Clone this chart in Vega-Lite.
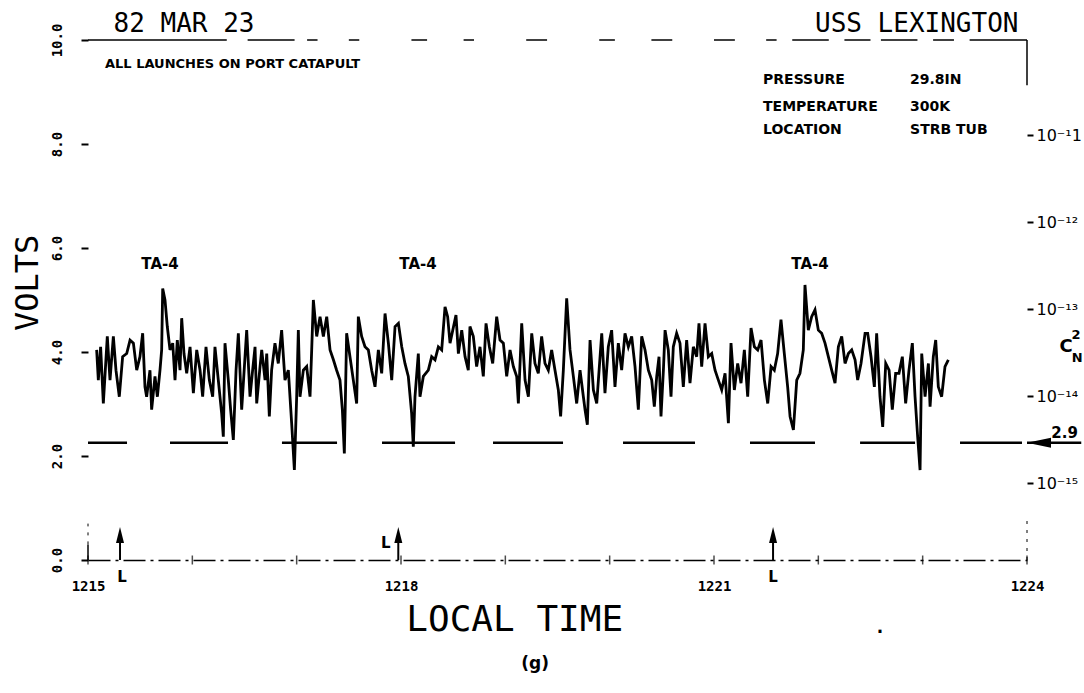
{
"$schema": "https://vega.github.io/schema/vega-lite/v6.json",
"width": 939, "height": 520,
"autosize": "none",
"padding": {"left": 88, "top": 40, "right": 57, "bottom": 133},
"background": "white",
"config": {"view": {"stroke": null}, "axis": {"grid": false}},
"datasets": {
"signal": [
{"t":1215.083,"v":4.04},{"t":1215.099,"v":3.46},{"t":1215.121,"v":4.10},{"t":1215.147,"v":3.01},{"t":1215.185,"v":4.30},{"t":1215.211,"v":3.46},{"t":1215.243,"v":4.30},{"t":1215.268,"v":3.65},{"t":1215.300,"v":3.14},{"t":1215.332,"v":3.91},{"t":1215.371,"v":3.97},{"t":1215.403,"v":4.23},{"t":1215.435,"v":4.17},{"t":1215.467,"v":3.65},{"t":1215.498,"v":3.91},{"t":1215.524,"v":4.36},{"t":1215.546,"v":3.33},{"t":1215.562,"v":3.14},{"t":1215.594,"v":3.65},{"t":1215.610,"v":2.89},{"t":1215.642,"v":3.53},{"t":1215.665,"v":3.14},{"t":1215.690,"v":3.65},{"t":1215.706,"v":4.04},{"t":1215.716,"v":5.22},{"t":1215.738,"v":5.00},{"t":1215.760,"v":4.49},{"t":1215.786,"v":4.04},{"t":1215.812,"v":4.17},{"t":1215.834,"v":3.46},{"t":1215.856,"v":4.23},{"t":1215.882,"v":3.65},{"t":1215.898,"v":4.65},{"t":1215.920,"v":3.97},{"t":1215.946,"v":3.59},{"t":1215.978,"v":4.10},{"t":1216.010,"v":3.21},{"t":1216.042,"v":4.04},{"t":1216.074,"v":3.65},{"t":1216.099,"v":3.14},{"t":1216.131,"v":4.10},{"t":1216.163,"v":3.46},{"t":1216.195,"v":3.14},{"t":1216.217,"v":4.10},{"t":1216.249,"v":3.46},{"t":1216.281,"v":2.82},{"t":1216.297,"v":2.37},{"t":1216.313,"v":4.17},{"t":1216.345,"v":3.46},{"t":1216.367,"v":2.89},{"t":1216.393,"v":2.31},{"t":1216.419,"v":3.65},{"t":1216.441,"v":4.36},{"t":1216.473,"v":2.89},{"t":1216.505,"v":3.91},{"t":1216.521,"v":4.42},{"t":1216.553,"v":3.14},{"t":1216.578,"v":3.65},{"t":1216.601,"v":4.10},{"t":1216.617,"v":3.01},{"t":1216.649,"v":3.72},{"t":1216.665,"v":4.04},{"t":1216.697,"v":3.46},{"t":1216.713,"v":3.97},{"t":1216.738,"v":2.76},
{"t":1216.760,"v":3.65},{"t":1216.792,"v":4.17},{"t":1216.824,"v":3.78},{"t":1216.856,"v":4.42},{"t":1216.888,"v":3.46},{"t":1216.920,"v":3.65},{"t":1216.952,"v":2.63},{"t":1216.978,"v":1.73},{"t":1217.000,"v":3.14},{"t":1217.016,"v":4.42},{"t":1217.032,"v":3.14},{"t":1217.064,"v":3.65},{"t":1217.096,"v":3.72},{"t":1217.128,"v":3.14},{"t":1217.144,"v":4.04},{"t":1217.160,"v":5.00},{"t":1217.192,"v":4.30},{"t":1217.224,"v":4.68},{"t":1217.256,"v":4.30},{"t":1217.288,"v":4.68},{"t":1217.320,"v":4.04},{"t":1217.352,"v":3.85},{"t":1217.383,"v":3.65},{"t":1217.415,"v":3.46},{"t":1217.438,"v":2.89},{"t":1217.457,"v":2.05},{"t":1217.479,"v":4.36},{"t":1217.511,"v":3.91},{"t":1217.543,"v":3.46},{"t":1217.575,"v":3.01},{"t":1217.591,"v":4.68},{"t":1217.623,"v":4.30},{"t":1217.655,"v":4.10},{"t":1217.687,"v":4.04},{"t":1217.719,"v":3.65},{"t":1217.751,"v":3.33},{"t":1217.783,"v":4.04},{"t":1217.815,"v":3.59},{"t":1217.847,"v":4.74},{"t":1217.879,"v":4.17},{"t":1217.911,"v":3.46},{"t":1217.943,"v":4.49},{"t":1217.975,"v":4.55},{"t":1218.007,"v":4.10},{"t":1218.038,"v":3.78},{"t":1218.070,"v":3.53},{"t":1218.102,"v":2.82},{"t":1218.118,"v":2.18},{"t":1218.134,"v":3.14},{"t":1218.166,"v":3.97},{"t":1218.182,"v":3.14},{"t":1218.214,"v":3.53},{"t":1218.262,"v":3.65},{"t":1218.294,"v":3.91},{"t":1218.326,"v":3.85},{"t":1218.358,"v":4.10},{"t":1218.390,"v":4.04},{"t":1218.422,"v":4.87},{"t":1218.447,"v":4.68},{"t":1218.470,"v":4.17},
{"t":1218.527,"v":4.71},{"t":1218.550,"v":3.97},{"t":1218.582,"v":4.42},{"t":1218.614,"v":3.91},{"t":1218.645,"v":3.65},{"t":1218.661,"v":4.49},{"t":1218.693,"v":4.30},{"t":1218.725,"v":3.72},{"t":1218.757,"v":4.10},{"t":1218.789,"v":3.53},{"t":1218.815,"v":4.55},{"t":1218.847,"v":4.10},{"t":1218.879,"v":3.78},{"t":1218.917,"v":4.68},{"t":1218.949,"v":4.23},{"t":1218.981,"v":4.17},{"t":1219.013,"v":3.53},{"t":1219.045,"v":4.04},{"t":1219.077,"v":3.72},{"t":1219.109,"v":3.53},{"t":1219.125,"v":3.01},{"t":1219.157,"v":4.55},{"t":1219.189,"v":3.46},{"t":1219.221,"v":3.14},{"t":1219.253,"v":4.36},{"t":1219.284,"v":3.78},{"t":1219.316,"v":3.59},{"t":1219.348,"v":4.30},{"t":1219.380,"v":3.78},{"t":1219.412,"v":3.65},{"t":1219.444,"v":4.04},{"t":1219.476,"v":3.65},{"t":1219.508,"v":3.27},{"t":1219.530,"v":2.76},{"t":1219.556,"v":3.65},{"t":1219.588,"v":5.03},{"t":1219.620,"v":4.04},{"t":1219.652,"v":3.53},{"t":1219.684,"v":3.01},{"t":1219.716,"v":3.65},{"t":1219.748,"v":3.14},{"t":1219.764,"v":2.89},{"t":1219.786,"v":2.60},{"t":1219.812,"v":4.23},{"t":1219.844,"v":3.27},{"t":1219.876,"v":3.01},{"t":1219.908,"v":3.91},{"t":1219.924,"v":4.36},{"t":1219.955,"v":3.21},{"t":1219.987,"v":4.10},{"t":1220.019,"v":4.42},{"t":1220.051,"v":3.33},{"t":1220.083,"v":4.17},{"t":1220.115,"v":3.65},{"t":1220.147,"v":4.36},{"t":1220.179,"v":4.10},{"t":1220.211,"v":4.30},{"t":1220.243,"v":3.72},{"t":1220.275,"v":2.89},
{"t":1220.307,"v":4.30},{"t":1220.339,"v":4.04},{"t":1220.371,"v":3.65},{"t":1220.403,"v":3.46},{"t":1220.428,"v":2.95},{"t":1220.451,"v":3.53},{"t":1220.473,"v":3.91},{"t":1220.492,"v":2.76},{"t":1220.515,"v":3.65},{"t":1220.531,"v":4.42},{"t":1220.562,"v":4.04},{"t":1220.588,"v":3.14},{"t":1220.610,"v":4.10},{"t":1220.642,"v":4.36},{"t":1220.674,"v":4.17},{"t":1220.706,"v":3.33},{"t":1220.738,"v":4.23},{"t":1220.770,"v":3.40},{"t":1220.802,"v":4.10},{"t":1220.834,"v":3.91},{"t":1220.856,"v":4.55},{"t":1220.882,"v":3.72},{"t":1220.914,"v":4.55},{"t":1220.946,"v":3.91},{"t":1220.978,"v":3.97},{"t":1221.010,"v":3.65},{"t":1221.042,"v":3.46},{"t":1221.074,"v":3.27},{"t":1221.106,"v":3.59},{"t":1221.138,"v":2.63},{"t":1221.163,"v":4.17},{"t":1221.195,"v":3.27},{"t":1221.227,"v":3.78},{"t":1221.259,"v":3.40},{"t":1221.291,"v":4.04},{"t":1221.323,"v":3.14},{"t":1221.355,"v":4.46},{"t":1221.387,"v":4.10},{"t":1221.419,"v":4.04},{"t":1221.451,"v":4.23},{"t":1221.483,"v":3.46},{"t":1221.515,"v":3.01},{"t":1221.547,"v":3.72},{"t":1221.578,"v":3.65},{"t":1221.610,"v":3.97},{"t":1221.642,"v":4.62},{"t":1221.674,"v":3.97},{"t":1221.706,"v":3.33},{"t":1221.729,"v":2.76},{"t":1221.761,"v":2.50},{"t":1221.793,"v":3.46},{"t":1221.824,"v":3.59},{"t":1221.856,"v":4.04},{"t":1221.872,"v":5.29},{"t":1221.904,"v":4.42},{"t":1221.936,"v":4.68},{"t":1221.968,"v":4.81},{"t":1222.000,"v":4.42},{"t":1222.032,"v":4.36},
{"t":1222.064,"v":4.17},{"t":1222.096,"v":3.91},{"t":1222.128,"v":3.65},{"t":1222.160,"v":3.40},{"t":1222.192,"v":4.10},{"t":1222.224,"v":4.30},{"t":1222.256,"v":3.78},{"t":1222.288,"v":3.97},{"t":1222.320,"v":4.04},{"t":1222.352,"v":3.85},{"t":1222.377,"v":3.46},{"t":1222.409,"v":3.78},{"t":1222.448,"v":4.36},{"t":1222.473,"v":4.36},{"t":1222.505,"v":3.91},{"t":1222.537,"v":3.33},{"t":1222.559,"v":4.36},{"t":1222.591,"v":3.14},{"t":1222.617,"v":2.56},{"t":1222.646,"v":3.78},{"t":1222.678,"v":3.65},{"t":1222.709,"v":2.89},{"t":1222.741,"v":3.59},{"t":1222.773,"v":3.59},{"t":1222.805,"v":3.91},{"t":1222.837,"v":3.01},{"t":1222.869,"v":3.65},{"t":1222.901,"v":4.17},{"t":1222.927,"v":3.14},{"t":1222.952,"v":2.37},{"t":1222.975,"v":1.73},{"t":1222.991,"v":3.97},{"t":1223.023,"v":3.14},{"t":1223.055,"v":3.78},{"t":1223.071,"v":2.95},{"t":1223.102,"v":3.91},{"t":1223.125,"v":4.23},{"t":1223.150,"v":3.33},{"t":1223.182,"v":3.14},{"t":1223.214,"v":3.72},{"t":1223.246,"v":3.85}
],
"refsegs": [
{"t":1215.0,"t2":1215.374,"c":2.9e-15},{"t":1215.786,"t2":1216.342,"c":2.9e-15},{"t":1216.859,"t2":1217.387,"c":2.9e-15},{"t":1217.818,"t2":1218.518,"c":2.9e-15},{"t":1218.882,"t2":1219.553,"c":2.9e-15},{"t":1220.128,"t2":1220.818,"c":2.9e-15},{"t":1221.345,"t2":1221.968,"c":2.9e-15},{"t":1222.400,"t2":1222.927,"c":2.9e-15},{"t":1223.358,"t2":1223.952,"c":2.9e-15},{"t":1224.0,"t2":1224.52,"c":2.9e-15}
],
"topframe": [
{"t":1215.0,"t2":1216.33,"v":10},{"t":1216.53,"t2":1216.98,"v":10},{"t":1217.1,"t2":1217.2,"v":10},{"t":1217.5,"t2":1217.6,"v":10},{"t":1218.1,"t2":1218.25,"v":10},{"t":1218.6,"t2":1218.7,"v":10},{"t":1219.2,"t2":1219.4,"v":10},{"t":1219.9,"t2":1220.05,"v":10},{"t":1220.4,"t2":1220.6,"v":10},{"t":1221.0,"t2":1221.2,"v":10},{"t":1221.5,"t2":1221.6,"v":10},{"t":1221.75,"t2":1222.1,"v":10},{"t":1222.25,"t2":1222.5,"v":10},{"t":1222.6,"t2":1222.95,"v":10},{"t":1223.1,"t2":1223.3,"v":10},{"t":1223.45,"t2":1224.0,"v":10}
],
"launches": [{"t":1215.307},{"t":1217.974},{"t":1221.566}],
"minutes": [{"t":1215},{"t":1216},{"t":1217},{"t":1218},{"t":1219},{"t":1220},{"t":1221},{"t":1222},{"t":1223},{"t":1224}]
},
"layer": [
{
"layer": [
{
"data": {"name": "signal"},
"mark": {"type": "line", "color": "black", "strokeWidth": 2.8, "strokeJoin": "miter"},
"encoding": {
"x": {"field": "t", "type": "quantitative", "scale": {"domain": [1215, 1224], "nice": false, "zero": false},
"axis": {"title": null, "values": [1215, 1218, 1221, 1224], "format": "d", "tickSize": 0, "labelPadding": 19, "labelFlush": false,
"labelFont": "DejaVu Sans Mono", "labelFontWeight": "bold", "labelFontSize": 14, "labelColor": "black",
"domainColor": "black", "domainWidth": 1.5, "domainDash": [22, 5, 3, 5]}},
"y": {"field": "v", "type": "quantitative", "scale": {"domain": [0, 10], "nice": false, "zero": false},
"axis": {"title": null, "values": [0, 2, 4, 6, 8, 10], "format": ".1f", "domain": false, "tickSize": 7, "tickWidth": 2, "tickColor": "black",
"labelAngle": -90, "labelAlign": "center", "labelBaseline": "middle", "labelPadding": 24, "labelFlush": false,
"labelFont": "DejaVu Sans Mono", "labelFontWeight": "bold", "labelFontSize": 14, "labelColor": "black"}}
}
},
{
"data": {"name": "topframe"},
"mark": {"type": "rule", "color": "black", "strokeWidth": 1.5},
"encoding": {"x": {"field": "t", "type": "quantitative"}, "x2": {"field": "t2"}, "y": {"field": "v", "type": "quantitative"}}
},
{
"data": {"values": [{"t": 1224, "v": 10, "v2": 9.13}, {"t": 1215, "v": 0, "v2": 0.3}]},
"mark": {"type": "rule", "color": "black", "strokeWidth": 1.5},
"encoding": {"x": {"field": "t", "type": "quantitative"}, "y": {"field": "v", "type": "quantitative"}, "y2": {"field": "v2"}}
},
{
"data": {"values": [{"t": 1224, "v": 0, "v2": 0.85}, {"t": 1215, "v": 0.3, "v2": 0.7}]},
"mark": {"type": "rule", "color": "black", "strokeWidth": 1, "strokeDash": [3, 6]},
"encoding": {"x": {"field": "t", "type": "quantitative"}, "y": {"field": "v", "type": "quantitative"}, "y2": {"field": "v2"}}
},
{
"data": {"name": "minutes"},
"transform": [{"calculate": "0", "as": "v"}],
"mark": {"type": "tick", "orient": "vertical", "color": "black", "thickness": 1.5, "size": 9},
"encoding": {"x": {"field": "t", "type": "quantitative"}, "y": {"field": "v", "type": "quantitative"}}
},
{
"data": {"name": "launches"},
"transform": [{"calculate": "0", "as": "v"}, {"calculate": "0.4", "as": "v2"}],
"mark": {"type": "rule", "color": "black", "strokeWidth": 2},
"encoding": {"x": {"field": "t", "type": "quantitative"}, "y": {"field": "v", "type": "quantitative"}, "y2": {"field": "v2"}}
},
{
"data": {"name": "launches"},
"transform": [{"calculate": "0.48", "as": "v"}],
"mark": {"type": "point", "shape": "M0,-1L0.5,1L-0.5,1Z", "filled": true, "color": "black", "opacity": 1, "size": 256},
"encoding": {"x": {"field": "t", "type": "quantitative"}, "y": {"field": "v", "type": "quantitative"}}
},
{
"data": {"values": [{"t": 1215.326, "v": -0.33, "label": "L"}, {"t": 1217.855, "v": 0.33, "label": "L"}, {"t": 1221.566, "v": -0.33, "label": "L"}]},
"mark": {"type": "text", "font": "DejaVu Sans", "fontWeight": "bold", "fontSize": 15, "color": "black", "align": "center", "baseline": "middle"},
"encoding": {"x": {"field": "t", "type": "quantitative"}, "y": {"field": "v", "type": "quantitative"}, "text": {"field": "label"}}
},
{
"data": {"values": [{"t": 1215.69, "v": 5.69, "label": "TA-4"}, {"t": 1218.163, "v": 5.69, "label": "TA-4"}, {"t": 1221.92, "v": 5.69, "label": "TA-4"}]},
"mark": {"type": "text", "font": "DejaVu Sans", "fontWeight": "bold", "fontSize": 15, "color": "black", "align": "center", "baseline": "middle"},
"encoding": {"x": {"field": "t", "type": "quantitative"}, "y": {"field": "v", "type": "quantitative"}, "text": {"field": "label"}}
},
{
"data": {"values": [{"t": 1215.245, "v": 10.31, "label": "82 MAR  23"}, {"t": 1221.968, "v": 10.31, "label": "USS LEXINGTON"}]},
"mark": {"type": "text", "font": "DejaVu Sans Mono", "fontSize": 26, "color": "black", "align": "left", "baseline": "middle"},
"encoding": {"x": {"field": "t", "type": "quantitative"}, "y": {"field": "v", "type": "quantitative"}, "text": {"field": "label"}}
},
{
"data": {"values": [{"t": 1215.163, "v": 9.54, "label": "ALL LAUNCHES ON PORT CATAPULT"}]},
"mark": {"type": "text", "font": "DejaVu Sans", "fontWeight": "bold", "fontSize": 13, "color": "black", "align": "left", "baseline": "middle"},
"encoding": {"x": {"field": "t", "type": "quantitative"}, "y": {"field": "v", "type": "quantitative"}, "text": {"field": "label"}}
},
{
"data": {"values": [
{"t": 1221.47, "v": 9.23, "label": "PRESSURE"},
{"t": 1221.47, "v": 8.72, "label": "TEMPERATURE"},
{"t": 1221.47, "v": 8.27, "label": "LOCATION"},
{"t": 1222.879, "v": 9.23, "label": "29.8IN"},
{"t": 1222.879, "v": 8.72, "label": "300K"},
{"t": 1222.879, "v": 8.27, "label": "STRB TUB"}
]},
"mark": {"type": "text", "font": "DejaVu Sans", "fontWeight": "bold", "fontSize": 14, "color": "black", "align": "left", "baseline": "middle"},
"encoding": {"x": {"field": "t", "type": "quantitative"}, "y": {"field": "v", "type": "quantitative"}, "text": {"field": "label"}}
},
{
"data": {"values": [{"t": 1214.425, "v": 5.33, "label": "VOLTS"}]},
"mark": {"type": "text", "font": "DejaVu Sans Mono", "fontSize": 32, "color": "black", "align": "center", "baseline": "middle", "angle": 270},
"encoding": {"x": {"field": "t", "type": "quantitative"}, "y": {"field": "v", "type": "quantitative"}, "text": {"field": "label"}}
},
{
"data": {"values": [{"t": 1219.09, "v": -1.15, "label": "LOCAL TIME"}]},
"mark": {"type": "text", "font": "DejaVu Sans Mono", "fontSize": 36, "color": "black", "align": "center", "baseline": "middle"},
"encoding": {"x": {"field": "t", "type": "quantitative"}, "y": {"field": "v", "type": "quantitative"}, "text": {"field": "label"}}
},
{
"data": {"values": [{"t": 1219.285, "v": -2.0, "label": "(g)"}, {"t": 1222.591, "v": -1.3, "label": "."}]},
"mark": {"type": "text", "font": "DejaVu Sans", "fontWeight": "bold", "fontSize": 17, "color": "black", "align": "center", "baseline": "middle"},
"encoding": {"x": {"field": "t", "type": "quantitative"}, "y": {"field": "v", "type": "quantitative"}, "text": {"field": "label"}}
},
{
"data": {"values": [{"t": 1224.374, "v": 4.10, "label": "C", "size": "big"}, {"t": 1224.47, "v": 4.33, "label": "2", "size": "small"}, {"t": 1224.48, "v": 3.88, "label": "N", "size": "small"}]},
"mark": {"type": "text", "font": "DejaVu Sans", "fontWeight": "bold", "color": "black", "align": "center", "baseline": "middle"},
"encoding": {"x": {"field": "t", "type": "quantitative"}, "y": {"field": "v", "type": "quantitative"}, "text": {"field": "label"},
"size": {"field": "size", "type": "nominal", "scale": {"domain": ["big", "small"], "range": [18, 13]}, "legend": null}}
}
]
},
{
"layer": [
{
"data": {"name": "refsegs"},
"mark": {"type": "rule", "color": "black", "strokeWidth": 2.5},
"encoding": {
"x": {"field": "t", "type": "quantitative"}, "x2": {"field": "t2"},
"y": {"field": "c", "type": "quantitative", "scale": {"type": "log", "domain": [1.303e-16, 1.236e-10], "nice": false},
"axis": {"orient": "right", "title": null, "values": [1e-11, 1e-12, 1e-13, 1e-14, 1e-15], "domain": false,
"tickSize": 6, "tickWidth": 2, "tickColor": "black", "labelPadding": 3, "labelFlush": false,
"labelExpr": "'10' + replace(replace(replace(replace(replace(replace(toString(round(log(datum.value)/LN10)),'-','⁻'),'1','¹'),'2','²'),'3','³'),'4','⁴'),'5','⁵')",
"labelFont": "DejaVu Sans", "labelFontSize": 16, "labelColor": "black", "labelBaseline": "middle"}}
}
},
{
"data": {"values": [{"t": 1224.115, "c": 2.9e-15}]},
"mark": {"type": "point", "shape": "M-1,0L1,-0.42L1,0.42Z", "filled": true, "color": "black", "opacity": 1, "size": 576},
"encoding": {"x": {"field": "t", "type": "quantitative"}, "y": {"field": "c", "type": "quantitative"}}
},
{
"data": {"values": [{"t": 1224.36, "c": 2.9e-15, "label": "2.9"}]},
"mark": {"type": "text", "font": "DejaVu Sans", "fontWeight": "bold", "fontSize": 15, "color": "black", "align": "center", "baseline": "bottom", "dy": -2},
"encoding": {"x": {"field": "t", "type": "quantitative"}, "y": {"field": "c", "type": "quantitative"}, "text": {"field": "label"}}
}
]
}
],
"resolve": {"scale": {"y": "independent"}, "axis": {"y": "independent"}}
}
